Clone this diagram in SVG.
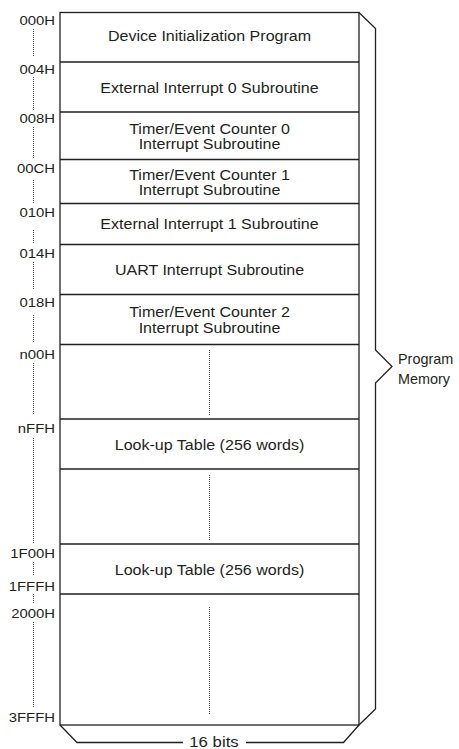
<svg xmlns="http://www.w3.org/2000/svg" width="459" height="749" viewBox="0 0 459 749">
<style>
  .box { fill: #ffffff; stroke: #231f20; stroke-width: 1.3; }
  .div { stroke: #231f20; stroke-width: 1.3; fill: none; }
  .t { font-family: "Liberation Sans", Arial, sans-serif; font-size: 15px; fill: #231f20; text-anchor: middle; }
  .lbl { font-family: "Liberation Sans", Arial, sans-serif; font-size: 13.3px; fill: #231f20; text-anchor: end; }
  .side { font-family: "Liberation Sans", Arial, sans-serif; font-size: 14.4px; fill: #231f20; }
  .dot { stroke: #555555; stroke-width: 1; stroke-dasharray: 1 1; fill: none; }
  .brace { stroke: #231f20; stroke-width: 1.3; fill: none; stroke-linejoin: miter; }
</style>
<rect width="459" height="749" fill="#ffffff"/>

<g id="memory-frame">
  <rect class="box" x="60" y="12.5" width="299" height="712.5"/>
</g>

<g id="node-000">
  <text class="t" transform="translate(209.5 40.5) scale(1.07 1)">Device Initialization Program</text>
</g>
<g id="node-004">
  <line class="div" x1="60" y1="62" x2="359" y2="62"/>
  <text class="t" transform="translate(209.5 92.5) scale(1.07 1)">External Interrupt 0 Subroutine</text>
</g>
<g id="node-008">
  <line class="div" x1="60" y1="112" x2="359" y2="112"/>
  <text class="t" transform="translate(209.5 133.5) scale(1.07 1)"><tspan x="0" y="0">Timer/Event Counter 0</tspan><tspan x="0" y="15.5">Interrupt Subroutine</tspan></text>
</g>
<g id="node-00C">
  <line class="div" x1="60" y1="159.5" x2="359" y2="159.5"/>
  <text class="t" transform="translate(209.5 179.5) scale(1.07 1)"><tspan x="0" y="0">Timer/Event Counter 1</tspan><tspan x="0" y="15.5">Interrupt Subroutine</tspan></text>
</g>
<g id="node-010">
  <line class="div" x1="60" y1="203.5" x2="359" y2="203.5"/>
  <text class="t" transform="translate(209.5 229.3) scale(1.07 1)">External Interrupt 1 Subroutine</text>
</g>
<g id="node-014">
  <line class="div" x1="60" y1="244.5" x2="359" y2="244.5"/>
  <text class="t" transform="translate(209.5 275) scale(1.07 1)">UART Interrupt Subroutine</text>
</g>
<g id="node-018">
  <line class="div" x1="60" y1="294.5" x2="359" y2="294.5"/>
  <text class="t" transform="translate(209.5 317) scale(1.07 1)"><tspan x="0" y="0">Timer/Event Counter 2</tspan><tspan x="0" y="16">Interrupt Subroutine</tspan></text>
</g>
<g id="node-n00">
  <line class="div" x1="60" y1="344.5" x2="359" y2="344.5"/>
  <line class="dot" x1="209.5" y1="350" x2="209.5" y2="415"/>
</g>
<g id="node-nFF">
  <line class="div" x1="60" y1="419" x2="359" y2="419"/>
  <text class="t" transform="translate(209.5 450) scale(1.07 1)">Look-up Table (256 words)</text>
</g>
<g id="node-gap">
  <line class="div" x1="60" y1="469" x2="359" y2="469"/>
  <line class="dot" x1="209.5" y1="475" x2="209.5" y2="540"/>
</g>
<g id="node-1F00">
  <line class="div" x1="60" y1="544" x2="359" y2="544"/>
  <text class="t" transform="translate(209.5 575) scale(1.07 1)">Look-up Table (256 words)</text>
</g>
<g id="node-2000">
  <line class="div" x1="60" y1="594" x2="359" y2="594"/>
  <line class="dot" x1="209.5" y1="607" x2="209.5" y2="714"/>
</g>

<g id="addresses">
  <text class="lbl" transform="translate(55 24.5) scale(1.12 1)">000H</text>
  <text class="lbl" transform="translate(55 74) scale(1.12 1)">004H</text>
  <text class="lbl" transform="translate(55 123) scale(1.12 1)">008H</text>
  <text class="lbl" transform="translate(55 173) scale(1.12 1)">00CH</text>
  <text class="lbl" transform="translate(55 217) scale(1.12 1)">010H</text>
  <text class="lbl" transform="translate(55 258) scale(1.12 1)">014H</text>
  <text class="lbl" transform="translate(55 307) scale(1.12 1)">018H</text>
  <text class="lbl" transform="translate(55 359) scale(1.12 1)">n00H</text>
  <text class="lbl" transform="translate(55 433) scale(1.12 1)">nFFH</text>
  <text class="lbl" transform="translate(55 558) scale(1.12 1)">1F00H</text>
  <text class="lbl" transform="translate(55 591) scale(1.12 1)">1FFFH</text>
  <text class="lbl" transform="translate(55 618) scale(1.12 1)">2000H</text>
  <text class="lbl" transform="translate(55 722) scale(1.12 1)">3FFFH</text>
</g>

<g id="address-guides">
  <line class="dot" x1="33.5" y1="29" x2="33.5" y2="57"/>
  <line class="dot" x1="33.5" y1="77" x2="33.5" y2="110"/>
  <line class="dot" x1="33.5" y1="127" x2="33.5" y2="159"/>
  <line class="dot" x1="33.5" y1="180" x2="33.5" y2="204"/>
  <line class="dot" x1="33.5" y1="230" x2="33.5" y2="243"/>
  <line class="dot" x1="33.5" y1="262" x2="33.5" y2="290"/>
  <line class="dot" x1="33.5" y1="315" x2="33.5" y2="343"/>
  <line class="dot" x1="33.5" y1="363" x2="33.5" y2="415"/>
  <line class="dot" x1="33.5" y1="438" x2="33.5" y2="543"/>
  <line class="dot" x1="33.5" y1="562" x2="33.5" y2="575"/>
  <line class="dot" x1="33.5" y1="594" x2="33.5" y2="603"/>
  <line class="dot" x1="33.5" y1="622" x2="33.5" y2="707"/>
</g>

<g id="connectors">
  <polyline class="brace" points="359,12.5 375.5,28.5 375.5,350 392,366.5 375.5,383 375.5,709 359,725"/>
  <polyline class="brace" points="60,725 77,742.5 183,742.5"/>
  <polyline class="brace" points="246,742.5 343.5,742.5 359,725"/>
</g>

<g id="labels">
  <text class="side" x="398" y="364">Program</text>
  <text class="side" x="398" y="383.5">Memory</text>
  <text class="t" transform="translate(214 747) scale(1.12 1)">16 bits</text>
</g>
</svg>
